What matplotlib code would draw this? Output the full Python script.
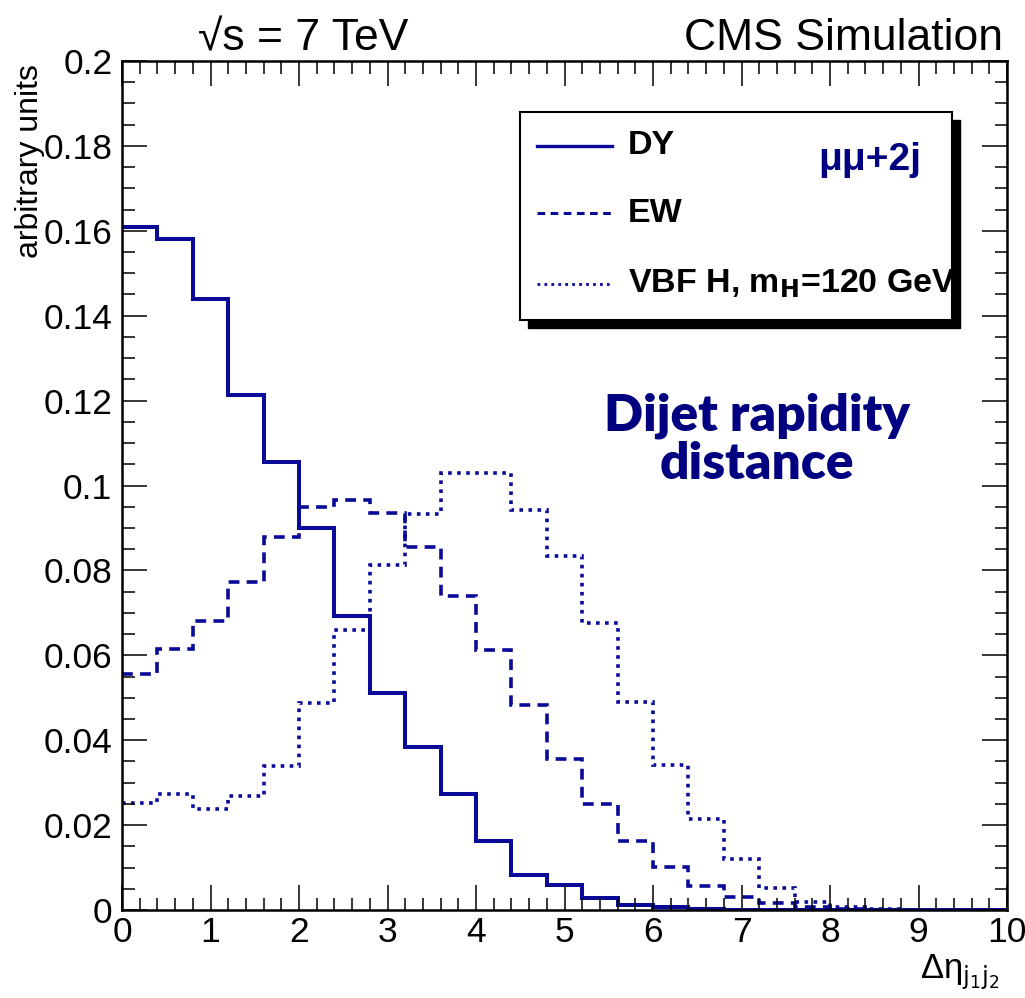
import numpy as np
import matplotlib
matplotlib.use('Agg')
import matplotlib.pyplot as plt
from matplotlib.patches import Rectangle
from matplotlib.ticker import MultipleLocator, FormatStrFormatter

# bin edges of delta eta (jj), 25 bins of 0.4
edges = np.linspace(0, 10, 26)

dy = [0.161, 0.158, 0.144, 0.1213, 0.1055, 0.0899, 0.0693, 0.0512, 0.0385, 0.0273,
      0.0163, 0.0082, 0.0059, 0.0028, 0.0012, 0.0008, 0.0003, 0.0001, 0.0, 0.0,
      0.0, 0.0, 0.0, 0.0, 0.0]
ew = [0.0556, 0.0616, 0.0681, 0.0773, 0.0879, 0.0949, 0.0966, 0.0936, 0.0856, 0.0740,
      0.0612, 0.0483, 0.0356, 0.0249, 0.0163, 0.0101, 0.0057, 0.0031, 0.0016, 0.0008,
      0.0003, 0.0001, 0.0001, 0.0, 0.0]
vbf = [0.0251, 0.0273, 0.0237, 0.0269, 0.0340, 0.0487, 0.0660, 0.0813, 0.0932, 0.1030,
       0.1030, 0.0942, 0.0834, 0.0677, 0.0491, 0.0342, 0.0214, 0.0119, 0.0053, 0.0020,
       0.0008, 0.0003, 0.0001, 0.0, 0.0]

col = '#0a0a99'
navy = '#000080'
W, H = 1025, 998

fig = plt.figure(figsize=(W / 100, H / 100), dpi=100)
ax = fig.add_axes([122 / W, 1 - 910 / H, 885 / W, 849 / H])

ax.stairs(dy, edges, baseline=None, color=col, lw=2.9)
ax.stairs(ew, edges, baseline=None, color=col, lw=2.6, linestyle=(0, (3, 2)))
ax.stairs(vbf, edges, baseline=None, color=col, lw=2.6, linestyle=(0, (1, 1.5)))

ax.set_xlim(0, 10)
ax.set_ylim(0, 0.2)
ax.xaxis.set_major_locator(MultipleLocator(1))
ax.xaxis.set_minor_locator(MultipleLocator(0.2))
ax.yaxis.set_major_locator(MultipleLocator(0.02))
ax.yaxis.set_minor_locator(MultipleLocator(0.005))
ax.yaxis.set_major_formatter(FormatStrFormatter('%g'))
ax.tick_params(which='both', direction='in', top=True, right=True, width=1.1, colors='black')
ax.tick_params(which='major', length=18, labelsize=25.5)
ax.tick_params(which='minor', length=9)
ax.tick_params(axis='y', pad=7)
ax.tick_params(axis='x', pad=4)
for s in ax.spines.values():
    s.set_linewidth(1.8)
for lab in ax.get_xticklabels() + ax.get_yticklabels():
    lab.set_family('Liberation Sans')

# axis titles (ROOT style, at the ends)
fig.text(30 / W, 1 - 64 / H, 'arbitrary units', rotation=90, ha='center', va='top',
         fontsize=23, family='Liberation Sans')
fig.text(1000 / W, 1 - 992 / H, 'Δη' + r'$_{\mathrm{j_{1}j_{2}}}$', ha='right', va='bottom',
         fontsize=25, family=['Liberation Sans', 'DejaVu Sans'])

# header
fig.text(198 / W, 1 - 50 / H, '√s = 7 TeV', ha='left', va='baseline',
         fontsize=32, family=['Liberation Sans', 'DejaVu Sans'])
fig.text(1003 / W, 1 - 50 / H, 'CMS Simulation', ha='right', va='baseline',
         fontsize=32, family='Liberation Sans')

# legend box with shadow
def px(x, y):
    return x / W, 1 - y / H

fig.patches.append(Rectangle(px(528, 328), 432 / W, 208 / H, transform=fig.transFigure,
                             facecolor='black', edgecolor='black', zorder=5))
fig.patches.append(Rectangle(px(520, 320), 432 / W, 208 / H, transform=fig.transFigure,
                             facecolor='white', edgecolor='black', lw=1.5, zorder=6))
entries = [('DY', '-', 2.4, 146), ('EW', (0, (2.5, 1.8)), 2.2, 213),
           (r'VBF H, m$_{\mathbf{H}}$=120 GeV', (0, (1, 1.5)), 2.0, 284)]
for label, ls, lw, y in entries:
    x0, y0 = px(537, y)
    x1, _ = px(612, y)
    fig.add_artist(plt.Line2D([x0, x1], [y0, y0], transform=fig.transFigure, color=col,
                              lw=lw, linestyle=ls, zorder=7))
    fig.text(628 / W, y0, label, ha='left', va='center', fontsize=24.5, fontweight='bold',
             family='Liberation Sans', zorder=8)

fig.text(870 / W, 1 - 160 / H, 'μμ+2j', ha='center', va='center', fontsize=28,
         fontweight='bold', color=navy, family='Liberation Sans', zorder=8)

fig.text(757 / W, 1 - 440 / H, 'Dijet rapidity\ndistance', ha='center', va='center',
         fontsize=37, fontweight='heavy', color=navy, family=['Lato', 'DejaVu Sans'],
         linespacing=1.05)

fig.savefig('out.png', dpi=100)
